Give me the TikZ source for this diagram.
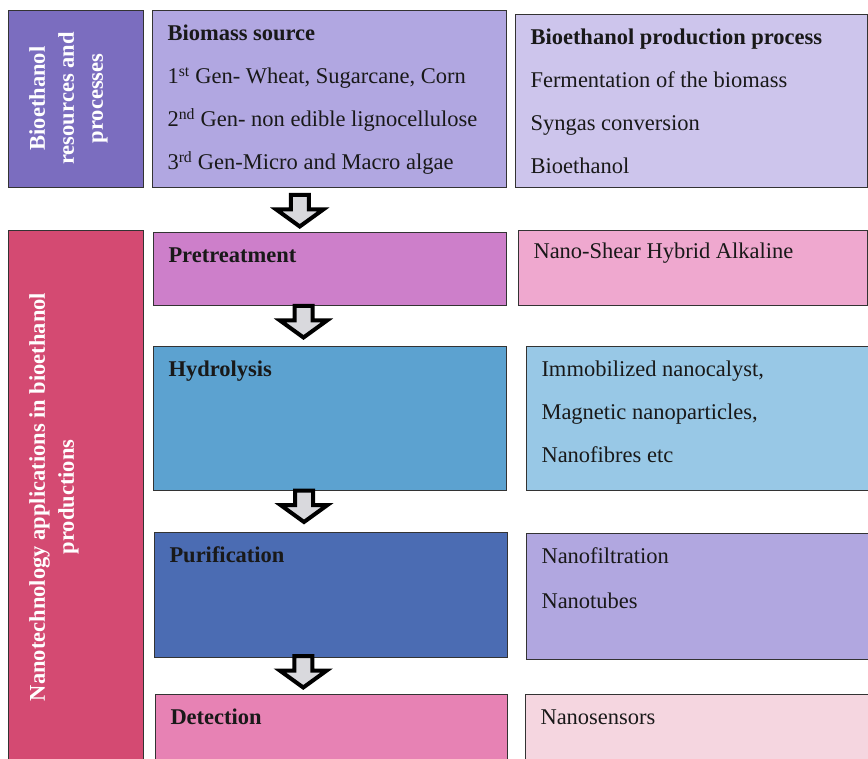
\documentclass[tikz,border=0pt]{standalone}
\usepackage{fontspec}
\setmainfont{Liberation Serif}
\usepackage{tikz}
\usetikzlibrary{positioning,calc}

\definecolor{resourcesCol}{HTML}{7B6DBF}
\definecolor{biomassCol}{HTML}{B1A7E1}
\definecolor{processCol}{HTML}{CDC5EC}
\definecolor{nanoCol}{HTML}{D44A72}
\definecolor{pretreatCol}{HTML}{CD7FCA}
\definecolor{shearCol}{HTML}{EFA8CF}
\definecolor{hydroCol}{HTML}{5CA2D0}
\definecolor{catalystCol}{HTML}{98C8E6}
\definecolor{purifyCol}{HTML}{4B6CB3}
\definecolor{filterCol}{HTML}{B1A7E0}
\definecolor{detectCol}{HTML}{E782B4}
\definecolor{sensorCol}{HTML}{F5D6E0}
\definecolor{arrowFill}{HTML}{D9D9DD}

\newcommand{\boxtext}[3]{\parbox[t][#1pt][t]{#2pt}{\strut #3}}
\newcommand{\blockarrow}[1]{\draw [flowarrow] ($(#1)+(-9,-16)$) -- ($(#1)+(9,-16)$) -- ($(#1)+(9,-1.5)$) -- ($(#1)+(23.5,-1.5)$) -- ($(#1)+(0,15.5)$) -- ($(#1)+(-23.5,-1.5)$) -- ($(#1)+(-9,-1.5)$) -- cycle;}

\begin{document}
\begin{tikzpicture}[x=1pt,y=-1pt]
	\tikzstyle{sidebox} = [rectangle, anchor=north west, draw=black!80, line width=1pt, inner sep=0pt]
	\tikzstyle{box} = [rectangle, anchor=north west, draw=black!80, line width=1pt, inner xsep=15pt, inner ysep=0pt, text=black!90, font=\fontsize{22.5}{43}\selectfont]
	\tikzstyle{sidetext} = [anchor=north, rotate=90, inner sep=0pt, align=center, text=white, font=\fontsize{22.5}{29}\selectfont\bfseries]
	\tikzstyle{flowarrow} = [draw=black, line width=4pt, fill=arrowFill, miter limit=4]
	\useasboundingbox (0,0) rectangle (868,759);
	\clip (0,0) rectangle (868,759);
	\node (resourcesBox) [sidebox, fill=resourcesCol, minimum width=135pt, minimum height=177pt] at (8,10) {};
	\node (resourcesText) [sidetext] at (29,98.5) {Bioethanol\\resources and\\processes};
	\node (biomassSource) [box, fill=biomassCol] at (152,10) {\boxtext{177}{324}{\textbf{Biomass source}\\1\textsuperscript{st} Gen- Wheat, Sugarcane, Corn\\2\textsuperscript{nd} Gen- non edible lignocellulose\\3\textsuperscript{rd} Gen-Micro and Macro algae}};
	\node (productionProcess) [box, fill=processCol] at (515,14) {\boxtext{173}{322}{\textbf{Bioethanol production process}\\Fermentation of the biomass\\Syngas conversion\\Bioethanol}};
	\node (nanoBox) [sidebox, fill=nanoCol, minimum width=135pt, minimum height=545pt] at (8,230) {};
	\node (nanoText) [sidetext] at (29,497) {Nanotechnology applications in bioethanol\\productions};
	\node (pretreatment) [box, fill=pretreatCol] at (153,232) {\boxtext{73}{323}{\textbf{Pretreatment}}};
	\node (nanoShear) [box, fill=shearCol] at (518,230) {\boxtext{75}{319}{\raisebox{2pt}{Nano-Shear Hybrid Alkaline}}};
	\node (hydrolysis) [box, fill=hydroCol] at (153,346) {\boxtext{144}{323}{\textbf{Hydrolysis}}};
	\node (immobilized) [box, fill=catalystCol] at (526,346) {\boxtext{144}{314}{Immobilized nanocalyst,\\Magnetic nanoparticles,\\Nanofibres etc}};
	\node (purification) [box, fill=purifyCol] at (154,532) {\boxtext{125}{323}{\textbf{Purification}}};
	\node (nanofiltration) [box, fill=filterCol] at (526,533) {\boxtext{126}{314}{Nanofiltration\\[2pt]Nanotubes}};
	\node (detection) [box, fill=detectCol] at (155,694) {\boxtext{81}{322}{\textbf{Detection}}};
	\node (nanosensors) [box, fill=sensorCol] at (525,694) {\boxtext{81}{315}{Nanosensors}};
	\coordinate (arrowA) at ($(biomassSource.south)!.5!(pretreatment.north)+(-30,1)$);
	\coordinate (arrowB) at ($(pretreatment.south)!.5!(hydrolysis.north)+(-26.5,-4)$);
	\coordinate (arrowC) at ($(hydrolysis.south)!.5!(purification.north)+(-26.5,-5)$);
	\coordinate (arrowD) at ($(purification.south)!.5!(detection.north)+(-28,-4)$);
	\blockarrow{arrowA}
	\blockarrow{arrowB}
	\blockarrow{arrowC}
	\blockarrow{arrowD}
\end{tikzpicture}
\end{document}
